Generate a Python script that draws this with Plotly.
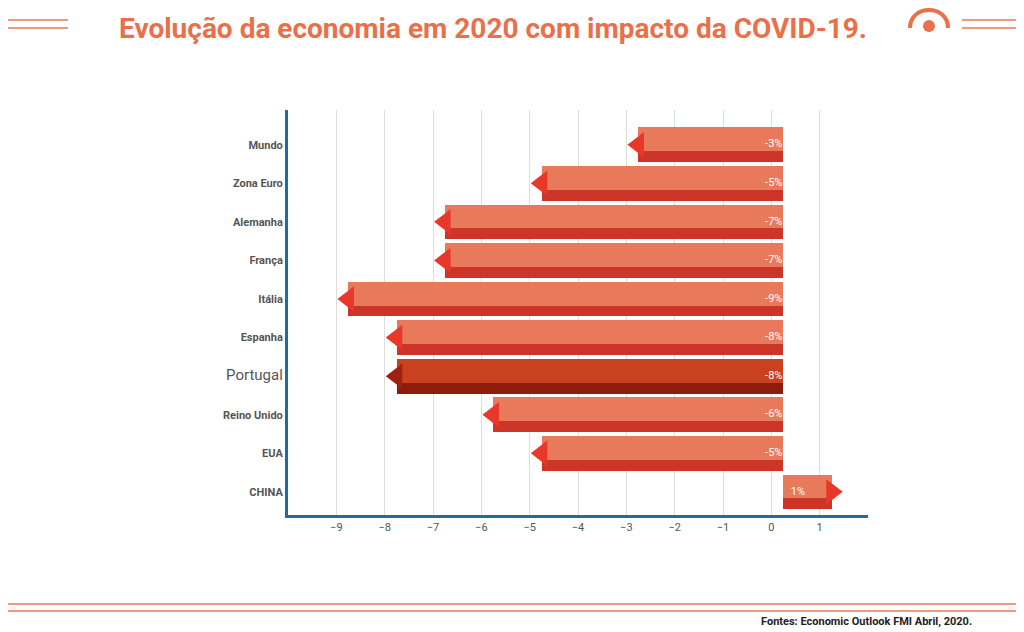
import plotly.graph_objects as go

countries = ["Mundo","Zona Euro","Alemanha","França","Itália","Espanha","Portugal","Reino Unido","EUA","CHINA"]
values = [-3,-5,-7,-7,-9,-8,-8,-6,-5,1]
labels = ["-3%","-5%","-7%","-7%","-9%","-8%","-8%","-6%","-5%","1%"]
tickvals = [-9,-8,-7,-6,-5,-4,-3,-2,-1,0,1]

BASE = 0.25
idx = list(range(len(countries)))
face = ["#C9411F" if c=="Portugal" else "#E8795A" for c in countries]
bottom = ["#8E1C0C" if c=="Portugal" else "#CC3527" for c in countries]
tipc = ["#9E2210" if c=="Portugal" else "#E8382A" for c in countries]

fig = go.Figure()
fig.add_trace(go.Bar(y=idx, x=values, base=BASE, orientation="h", width=0.62, offset=-0.45,
                     marker=dict(color=face, line_width=0), hoverinfo="skip"))
fig.add_trace(go.Bar(y=idx, x=values, base=BASE, orientation="h", width=0.28, offset=0.17,
                     marker=dict(color=bottom, line_width=0), hoverinfo="skip"))
fig.add_trace(go.Scatter(y=idx, x=[v+BASE for v in values], mode="markers",
                         marker=dict(symbol=["triangle-left" if v<0 else "triangle-right" for v in values],
                                     size=22, color=tipc, line_width=0), hoverinfo="skip"))
fig.add_trace(go.Scatter(y=idx, x=[0.05 if v<0 else 0.55 for v in values], text=labels, mode="text",
                         textfont=dict(color="white", size=11, family="Roboto"), hoverinfo="skip"))

ticktext = ["<span style='font-size:15px'>Portugal</span>" if c=="Portugal" else "<b>"+c+"</b>" for c in countries]
fig.update_yaxes(range=[9.6,-0.9], tickvals=idx, ticktext=ticktext, showgrid=False,
                 showline=True, linecolor="#1F6DA0", linewidth=3, ticks="", zeroline=False,
                 tickfont=dict(family="Roboto", size=11, color="#555"))
fig.update_xaxes(range=[-10,2], tickvals=tickvals, showgrid=True, gridcolor="#DDDDDD", zeroline=False,
                 showline=True, linecolor="#1F6DA0", linewidth=3, ticks="",
                 tickfont=dict(family="Roboto", size=11, color="#555"))

W = 580; H = 405
def px(x): return (x-286)/W
def py(y): return (515-y)/H
deco = []
for y in (20, 28):
    deco.append(dict(type="line", xref="paper", yref="paper", x0=px(4), x1=px(66), y0=py(y), y1=py(y), line=dict(color="#E8795A", width=1.5)))
    deco.append(dict(type="line", xref="paper", yref="paper", x0=px(960), x1=px(1020), y0=py(y), y1=py(y), line=dict(color="#E8795A", width=1.5)))
for y in (604, 611):
    deco.append(dict(type="line", xref="paper", yref="paper", x0=px(0), x1=px(1024), y0=py(y), y1=py(y), line=dict(color="#E8795A", width=1.5)))
deco.append(dict(type="circle", xref="paper", yref="paper", x0=px(921), x1=px(933), y0=py(32), y1=py(20), fillcolor="#E8704A", line_width=0))
deco.append(dict(type="path", xref="paper", yref="paper",
                 path=f"M {px(908)},{py(28)} C {px(908)},{py(4)} {px(946)},{py(4)} {px(946)},{py(28)}",
                 line=dict(color="#E8704A", width=4)))
fig.update_layout(
    width=1024, height=632, showlegend=False, barmode="overlay", bargap=0,
    paper_bgcolor="white", plot_bgcolor="white",
    margin=dict(l=280, r=164, t=102, b=125),
    font=dict(family="Roboto"),
    title=dict(text="<b>Evolução da economia em 2020 com impacto da COVID-19.</b>", x=485/1024, xanchor="center",
               y=1-20/632, yanchor="middle", font=dict(size=28, color="#E8704A", family="Roboto")),
    shapes=deco,
    annotations=[dict(text="<b>Fontes: Economic Outlook FMI Abril, 2020.</b>", xref="paper", yref="paper",
                      x=px(972), y=py(621), xanchor="right", yanchor="middle", showarrow=False,
                      font=dict(size=11, color="#222"))],
)
fig.write_html("out.html")
